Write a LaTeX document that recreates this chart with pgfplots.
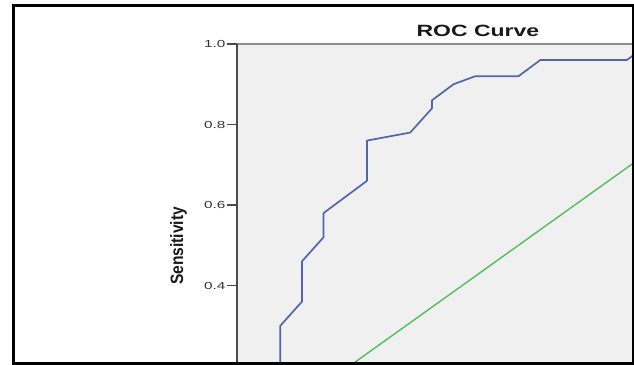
\documentclass[border=0pt]{standalone}
\usepackage{pgfplots}
\pgfplotsset{compat=1.18}
\usepackage{fontspec}
\setmainfont{Liberation Sans}
\usepackage{graphicx}
\definecolor{bgc}{RGB}{240,240,240}
\definecolor{rocblue}{RGB}{84,100,170}
\definecolor{refgreen}{RGB}{80,190,95}
\definecolor{axisdark}{RGB}{75,75,75}
\definecolor{axisgray}{RGB}{140,140,140}
\begin{document}
\begin{tikzpicture}[x=1pt,y=1pt]
\useasboundingbox (0,0) rectangle (634,364);
\fill[white] (0,0) rectangle (634,364);
\begin{axis}[
  at={(237pt,1pt)}, anchor=south west,
  scale only axis, width=395pt, height=319pt,
  xmin=0, xmax=0.7016, ymin=0.2075, ymax=1,
  axis background/.style={fill=bgc},
  axis x line*=top, axis y line*=left,
  x axis line style={axisgray, line width=1.8pt},
  y axis line style={axisdark, line width=2pt},
  xtick=\empty,
  ytick={0.4,0.6,0.8,1.0},
  tick align=outside, major tick length=10.5pt,
  every tick/.style={axisdark, line width=1.3pt},
  /pgf/number format/assume math mode=true,
  yticklabel={\scalebox{1.5}[1]{\pgfmathprintnumber[fixed,fixed zerofill,precision=1]{\tick}}},
  yticklabel style={font=\fontsize{10.2}{12}\selectfont, color=black!80, anchor=east, inner sep=0pt, xshift=-1pt},
  title={\scalebox{1.41}[1]{\bfseries ROC Curve}},
  title style={at={(rel axis cs:0.610,1)}, anchor=center, yshift=7pt, font=\fontsize{16.3}{18}\selectfont, color=black!90},
  ylabel={\scalebox{1}[1.15]{\bfseries Sensitivity}},
  ylabel style={at={(rel axis cs:0,0.367)}, anchor=center, yshift=58.5pt, font=\fontsize{15.6}{18}\selectfont, color=black!90},
  clip=true,
]
\addplot[refgreen, line width=1.4pt] coordinates {(0,0) (1,1)};
\addplot[rocblue, line width=1.7pt, line join=round] coordinates {
 (0,0) (0.0769,0.0) (0.0769,0.30) (0.1154,0.36) (0.1154,0.46)
 (0.1538,0.52) (0.1538,0.58) (0.2308,0.66) (0.2308,0.76)
 (0.3077,0.78) (0.3462,0.84) (0.3462,0.86) (0.3846,0.90)
 (0.4231,0.92) (0.5,0.92) (0.5385,0.96) (0.6923,0.96) (0.7308,1.0)
};
\end{axis}
\draw[black, line width=3pt] (13.8,358.7) rectangle (633,1);
\end{tikzpicture}
\end{document}
